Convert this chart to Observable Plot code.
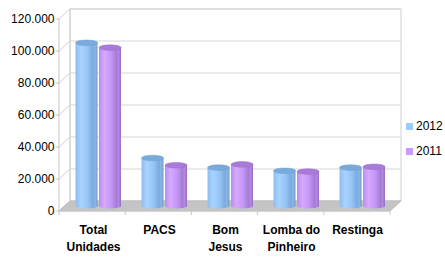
<!DOCTYPE html>
<html>
<head>
<meta charset="utf-8">
<script src="https://cdn.jsdelivr.net/npm/d3@7"></script>
<script src="https://cdn.jsdelivr.net/npm/@observablehq/plot@0.6"></script>
<style>
  html, body { margin: 0; padding: 0; background: #fff; }
  #wrap { position: relative; width: 445px; height: 257px; font-family: "Liberation Sans", Arial, sans-serif; }
  .leg { position: absolute; left: 406px; font-size: 12px; color: #000; display: flex; align-items: center; }
  .leg span.sw { display: inline-block; width: 7px; height: 7px; margin-right: 3px; }
</style>
</head>
<body>
<div id="wrap"></div>
<script>
const categories = ["Total Unidades", "PACS", "Bom Jesus", "Lomba do Pinheiro", "Restinga"];
const tickLabels = ["Total\nUnidades", "PACS", "Bom\nJesus", "Lomba do\nPinheiro", "Restinga"];
const seriesNames = ["2012", "2011"];
const values2012 = [102000, 30000, 24000, 22000, 24000];
const values2011 = [99000, 25500, 26000, 21500, 24500];
const yTicks = [0, 20000, 40000, 60000, 80000, 100000, 120000];
const seriesColors = ["#99ccff", "#cc99ff"];

const rows2012 = categories.map((c, i) => ({cat: c, series: "2012", value: values2012[i]}));
const rows2011 = categories.map((c, i) => ({cat: c, series: "2011", value: values2011[i]}));

const fmt = d3.formatLocale({decimal: ",", thousands: ".", grouping: [3], currency: ["", ""]}).format(",d");

const DEPTH_X = 11, DEPTH_Y = -10; // 3D depth offset (px)
const BAR_DX = 0, BAR_DY = -5;

function walls(index, scales, values, dims) {
  const {x, y} = scales;
  const x0 = dims.marginLeft, x1 = dims.width - dims.marginRight;
  const y0 = y(0), yTop = y(yTicks[yTicks.length - 1]);
  const g = d3.create("svg:g");
  // back wall
  g.append("rect").attr("x", x0 + DEPTH_X).attr("y", yTop + DEPTH_Y)
    .attr("width", x1 - x0).attr("height", y0 - yTop).attr("fill", "#fff").attr("stroke", "#d0d0d0");
  for (const t of yTicks) {
    g.append("line").attr("x1", x0 + DEPTH_X).attr("x2", x1 + DEPTH_X)
      .attr("y1", y(t) + DEPTH_Y).attr("y2", y(t) + DEPTH_Y).attr("stroke", "#d6d6d6");
    // left wall diagonals
    g.append("line").attr("x1", x0).attr("x2", x0 + DEPTH_X)
      .attr("y1", y(t)).attr("y2", y(t) + DEPTH_Y).attr("stroke", "#d0d0d0");
  }
  g.append("line").attr("x1", x0 + DEPTH_X).attr("x2", x0 + DEPTH_X)
    .attr("y1", yTop + DEPTH_Y).attr("y2", y0 + DEPTH_Y).attr("stroke", "#d0d0d0");
  // floor
  g.append("path").attr("d", `M${x0},${y0}L${x1},${y0}L${x1 + DEPTH_X},${y0 + DEPTH_Y}L${x0 + DEPTH_X},${y0 + DEPTH_Y}Z`)
    .attr("fill", "#c4c4c4").attr("stroke", "#bdbdbd");
  // front axes
  g.append("line").attr("x1", x0).attr("x2", x0).attr("y1", yTop).attr("y2", y0).attr("stroke", "#c8c8c8");
  g.append("line").attr("x1", x0).attr("x2", x1).attr("y1", y0).attr("y2", y0).attr("stroke", "#c8c8c8");
  for (const t of yTicks) {
    g.append("line").attr("x1", x0 - 3).attr("x2", x0).attr("y1", y(t)).attr("y2", y(t)).attr("stroke", "#c8c8c8");
  }
  const bw = (x1 - x0) / categories.length;
  for (let i = 0; i <= categories.length; i++) {
    const xx = x0 + i * bw;
    g.append("line").attr("x1", xx).attr("x2", xx).attr("y1", y0).attr("y2", y0 + 4).attr("stroke", "#c8c8c8");
  }
  return g.node();
}

const insets = [{l: 15.5, r: 28.5}, {l: 39, r: 5}];

function caps(index, scales, values, dims) {
  const {x, y} = scales;
  const x0 = dims.marginLeft, x1 = dims.width - dims.marginRight;
  const bw = (x1 - x0) / categories.length;
  const g = d3.create("svg:g");
  const sets = [[rows2012, "#7aa9dc", "#6f9ccd"], [rows2011, "#a97bd9", "#9a6cc8"]];
  sets.forEach(([rows, fillc, strokec], s) => {
    for (const r of rows) {
      const left = x(r.cat) + insets[s].l, right = x(r.cat) + bw - insets[s].r;
      const cx = (left + right) / 2 + BAR_DX, rx = (right - left) / 2;
      // bottom ellipse
      g.append("ellipse").attr("cx", cx).attr("cy", y(0) + BAR_DY).attr("rx", rx).attr("ry", 2.5)
        .attr("fill", s === 0 ? "url(#g2012)" : "url(#g2011)");
      g.append("ellipse").attr("cx", cx).attr("cy", y(r.value) + BAR_DY).attr("rx", rx).attr("ry", 2.8)
        .attr("fill", fillc).attr("stroke", strokec).attr("stroke-width", 0.5);
    }
  });
  return g.node();
}

const chart = Plot.plot({
  width: 445,
  height: 257,
  marginLeft: 59,
  marginRight: 55,
  marginTop: 0,
  marginBottom: 46,
  style: {fontFamily: "'Liberation Sans', Arial, sans-serif", fontSize: "12px", color: "#000", background: "#fff"},
  x: {type: "band", domain: categories, padding: 0, label: null},
  y: {domain: [0, 131875], label: null},
  marks: [
    walls,
    Plot.barY(rows2012, {x: "cat", y: "value", fill: "url(#g2012)", insetLeft: insets[0].l, insetRight: insets[0].r, dx: BAR_DX, dy: BAR_DY}),
    Plot.barY(rows2011, {x: "cat", y: "value", fill: "url(#g2011)", insetLeft: insets[1].l, insetRight: insets[1].r, dx: BAR_DX, dy: BAR_DY}),
    caps,
    Plot.axisY({ticks: yTicks, tickFormat: fmt, tickSize: 0, tickPadding: 5, fill: "#000", label: null}),
    Plot.axisX({tickSize: 0, tickPadding: 11, tickFormat: d => tickLabels[categories.indexOf(d)], fontWeight: "bold", lineHeight: 1.4, fill: "#000", label: null})
  ]
});

// gradients for cylinders
const svg = d3.select(chart);
const defs = svg.insert("defs", ":first-child");
function grad(id, stops) {
  const lg = defs.append("linearGradient").attr("id", id).attr("x1", "0").attr("x2", "1").attr("y1", "0").attr("y2", "0");
  for (const [o, c] of stops) lg.append("stop").attr("offset", o).attr("stop-color", c);
}
grad("g2012", [["0", "#8dbdee"], ["0.25", "#a9d3ff"], ["0.55", "#95c5f5"], ["0.8", "#7aa9dc"], ["0.88", "#8cb8e6"], ["1", "#6f9ccd"]]);
grad("g2011", [["0", "#bb8ded"], ["0.25", "#d6a9ff"], ["0.55", "#c596f5"], ["0.8", "#a57bd6"], ["0.88", "#b38ae0"], ["1", "#9a6cc8"]]);

const wrap = document.getElementById("wrap");
wrap.appendChild(chart);
const legTops = [119, 144];
seriesNames.forEach((s, i) => {
  const d = document.createElement("div");
  d.className = "leg";
  d.style.top = legTops[i] + "px";
  d.innerHTML = `<span class="sw" style="background:${seriesColors[i]}"></span>${s}`;
  wrap.appendChild(d);
});
</script>
</body>
</html>
